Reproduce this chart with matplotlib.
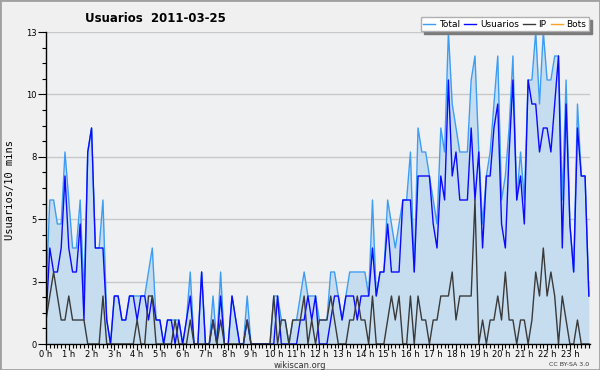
# Usuarios por 10 minutos, 2011-03-25 (wikiscan)
import numpy as np
import matplotlib.pyplot as plt
from matplotlib.patches import Rectangle
from matplotlib.ticker import FixedLocator, MultipleLocator

# one value per 10 minutes, six per hour
total = [2, 6, 6, 5, 5, 8,   6, 4, 4, 6, 2, 8,   9, 4, 4, 6, 1, 0,
         2, 2, 1, 1, 2, 2,   2, 2, 2, 3, 4, 1,   1, 0, 1, 1, 1, 1,
         0, 1, 3, 0, 0, 3,   0, 0, 2, 0, 3, 0,   0, 2, 1, 0, 0, 2,
         0, 0, 0, 0, 0, 0,   2, 2, 1, 1, 0, 1,   1, 2, 3, 2, 2, 2,
         1, 1, 1, 3, 3, 2,   1, 2, 3, 3, 3, 3,   3, 2, 6, 2, 3, 3,
         6, 5, 4, 5, 6, 6,   8, 3, 9, 8, 8, 7,   6, 5, 9, 8, 13, 10,
         9, 8, 8, 8, 11, 12,  8, 5, 7, 8, 10, 12,  6, 7, 9, 12, 6, 8,
         6, 11, 11, 13, 10, 13,  11, 11, 12, 12, 6, 11,  5, 3, 10, 7, 7, 2]
usuarios = [1, 4, 3, 3, 4, 7,   4, 3, 3, 5, 1, 8,   9, 4, 4, 4, 1, 0,
            2, 2, 1, 1, 2, 2,   1, 2, 2, 1, 2, 1,   1, 0, 1, 1, 0, 1,
            0, 1, 2, 0, 0, 3,   0, 0, 1, 0, 2, 0,   0, 2, 1, 0, 0, 1,
            0, 0, 0, 0, 0, 0,   0, 2, 0, 0, 0, 0,   0, 1, 1, 2, 1, 2,
            0, 0, 0, 1, 2, 2,   1, 2, 2, 2, 1, 2,   2, 2, 4, 2, 3, 3,
            5, 3, 3, 3, 6, 6,   6, 3, 7, 7, 7, 7,   5, 4, 7, 6, 11, 7,
            8, 6, 6, 6, 9, 6,   8, 4, 7, 7, 9, 10,  5, 4, 8, 11, 6, 7,
            5, 11, 10, 10, 8, 9,  9, 8, 10, 12, 4, 10,  5, 3, 9, 7, 7, 2]
ip = [1, 2, 3, 2, 1, 1,   2, 1, 1, 1, 1, 0,   0, 0, 0, 2, 0, 0,
      0, 0, 0, 0, 0, 0,   1, 0, 0, 2, 2, 0,   0, 0, 0, 0, 1, 0,
      0, 0, 1, 0, 0, 0,   0, 0, 1, 0, 1, 0,   0, 0, 0, 0, 0, 1,
      0, 0, 0, 0, 0, 0,   2, 0, 1, 1, 0, 1,   1, 1, 2, 0, 1, 0,
      1, 1, 1, 2, 1, 0,   0, 0, 1, 1, 2, 1,   1, 0, 2, 0, 0, 0,
      1, 2, 1, 2, 0, 0,   2, 0, 2, 1, 1, 0,   1, 1, 2, 2, 2, 3,
      1, 2, 2, 2, 2, 6,   0, 1, 0, 1, 1, 2,   1, 3, 1, 1, 0, 1,
      1, 0, 1, 3, 2, 4,   2, 3, 2, 0, 2, 1,   0, 0, 1, 0, 0, 0]
bots = [0] * 144

hour_labels = [f"{h} h" for h in range(24)]
ytick_pos = [0, 2.6, 5.2, 7.8, 10.4, 13]
ytick_labels = ["0", "3", "5", "8", "10", "13"]

x = np.arange(len(total))

fig = plt.figure(figsize=(6, 3.7), dpi=100, facecolor="#f0f0f0")
ax = fig.add_axes([46 / 600, 26 / 370, 544 / 600, 312 / 370])
ax.set_facecolor("#eff0f2")

ax.fill_between(x, total, color="#c6ddf0", lw=0, zorder=1)
l_bots, = ax.plot(x, bots, color="#ffa020", lw=1, zorder=0.5, label="Bots")
l_total, = ax.plot(x, total, color="#3d9df5", lw=1, zorder=2, label="Total")
l_us, = ax.plot(x, usuarios, color="#0a0aff", lw=1, zorder=2.1, label="Usuarios")
l_ip, = ax.plot(x, ip, color="#3a3a3a", lw=1, zorder=2.2, label="IP")

ax.set_xlim(0, 143.3)
ax.set_ylim(0, 13)

ax.xaxis.set_major_locator(FixedLocator(np.arange(0, 144, 6)))
ax.set_xticklabels(hour_labels)
ax.xaxis.set_minor_locator(MultipleLocator(1))
ax.yaxis.set_major_locator(FixedLocator(ytick_pos))
ax.set_yticklabels(ytick_labels)
ax.yaxis.set_minor_locator(MultipleLocator(0.65))

ax.tick_params(axis="both", which="both", direction="out", colors="black",
               labelsize=6, width=0.8, pad=1)
ax.tick_params(axis="x", which="major", length=4, pad=0.5)
ax.tick_params(axis="x", which="minor", length=3)
ax.tick_params(axis="y", which="major", length=6)
ax.tick_params(axis="y", which="minor", length=3)

ax.grid(axis="y", which="major", color="#c8c8c8", lw=1)
ax.set_axisbelow(True)
for s in ["top", "right"]:
    ax.spines[s].set_visible(False)
for s in ["left", "bottom"]:
    ax.spines[s].set_linewidth(1)
    ax.spines[s].set_color("black")

leg = ax.legend(handles=[l_total, l_us, l_ip, l_bots], loc="upper right",
                bbox_to_anchor=(589 / 600, 1 - 17 / 370),
                bbox_transform=fig.transFigure, ncol=4, fontsize=6.5,
                fancybox=False, shadow={"color": "#7a7a7a", "alpha": 1},
                handlelength=1.3, handletextpad=0.4, columnspacing=0.5,
                borderpad=0.3, borderaxespad=0, framealpha=1)
leg.get_frame().set_edgecolor("#b0b0b0")
leg.get_frame().set_facecolor("white")

fig.text(85 / 600, 1 - 18 / 370, "Usuarios  2011-03-25", fontsize=8.5,
         fontweight="bold", va="center", ha="left")
fig.text(10 / 600, 1 - 190 / 370, "Usuarios/10 mins", rotation=90,
         family="DejaVu Sans Mono", fontsize=7.5, va="center", ha="center")
fig.text(0.5, 1 - 365 / 370, "wikiscan.org", fontsize=6, color="#333333",
         va="center", ha="center")
fig.text(589 / 600, 1 - 365 / 370, "CC BY-SA 3.0", fontsize=4.5,
         color="#333333", va="center", ha="right")

fig.add_artist(Rectangle((0, 0), 1, 1, transform=fig.transFigure,
                         fill=False, edgecolor="#a0a0a0", lw=2))

fig.savefig("out.png", dpi=100, facecolor=fig.get_facecolor())
